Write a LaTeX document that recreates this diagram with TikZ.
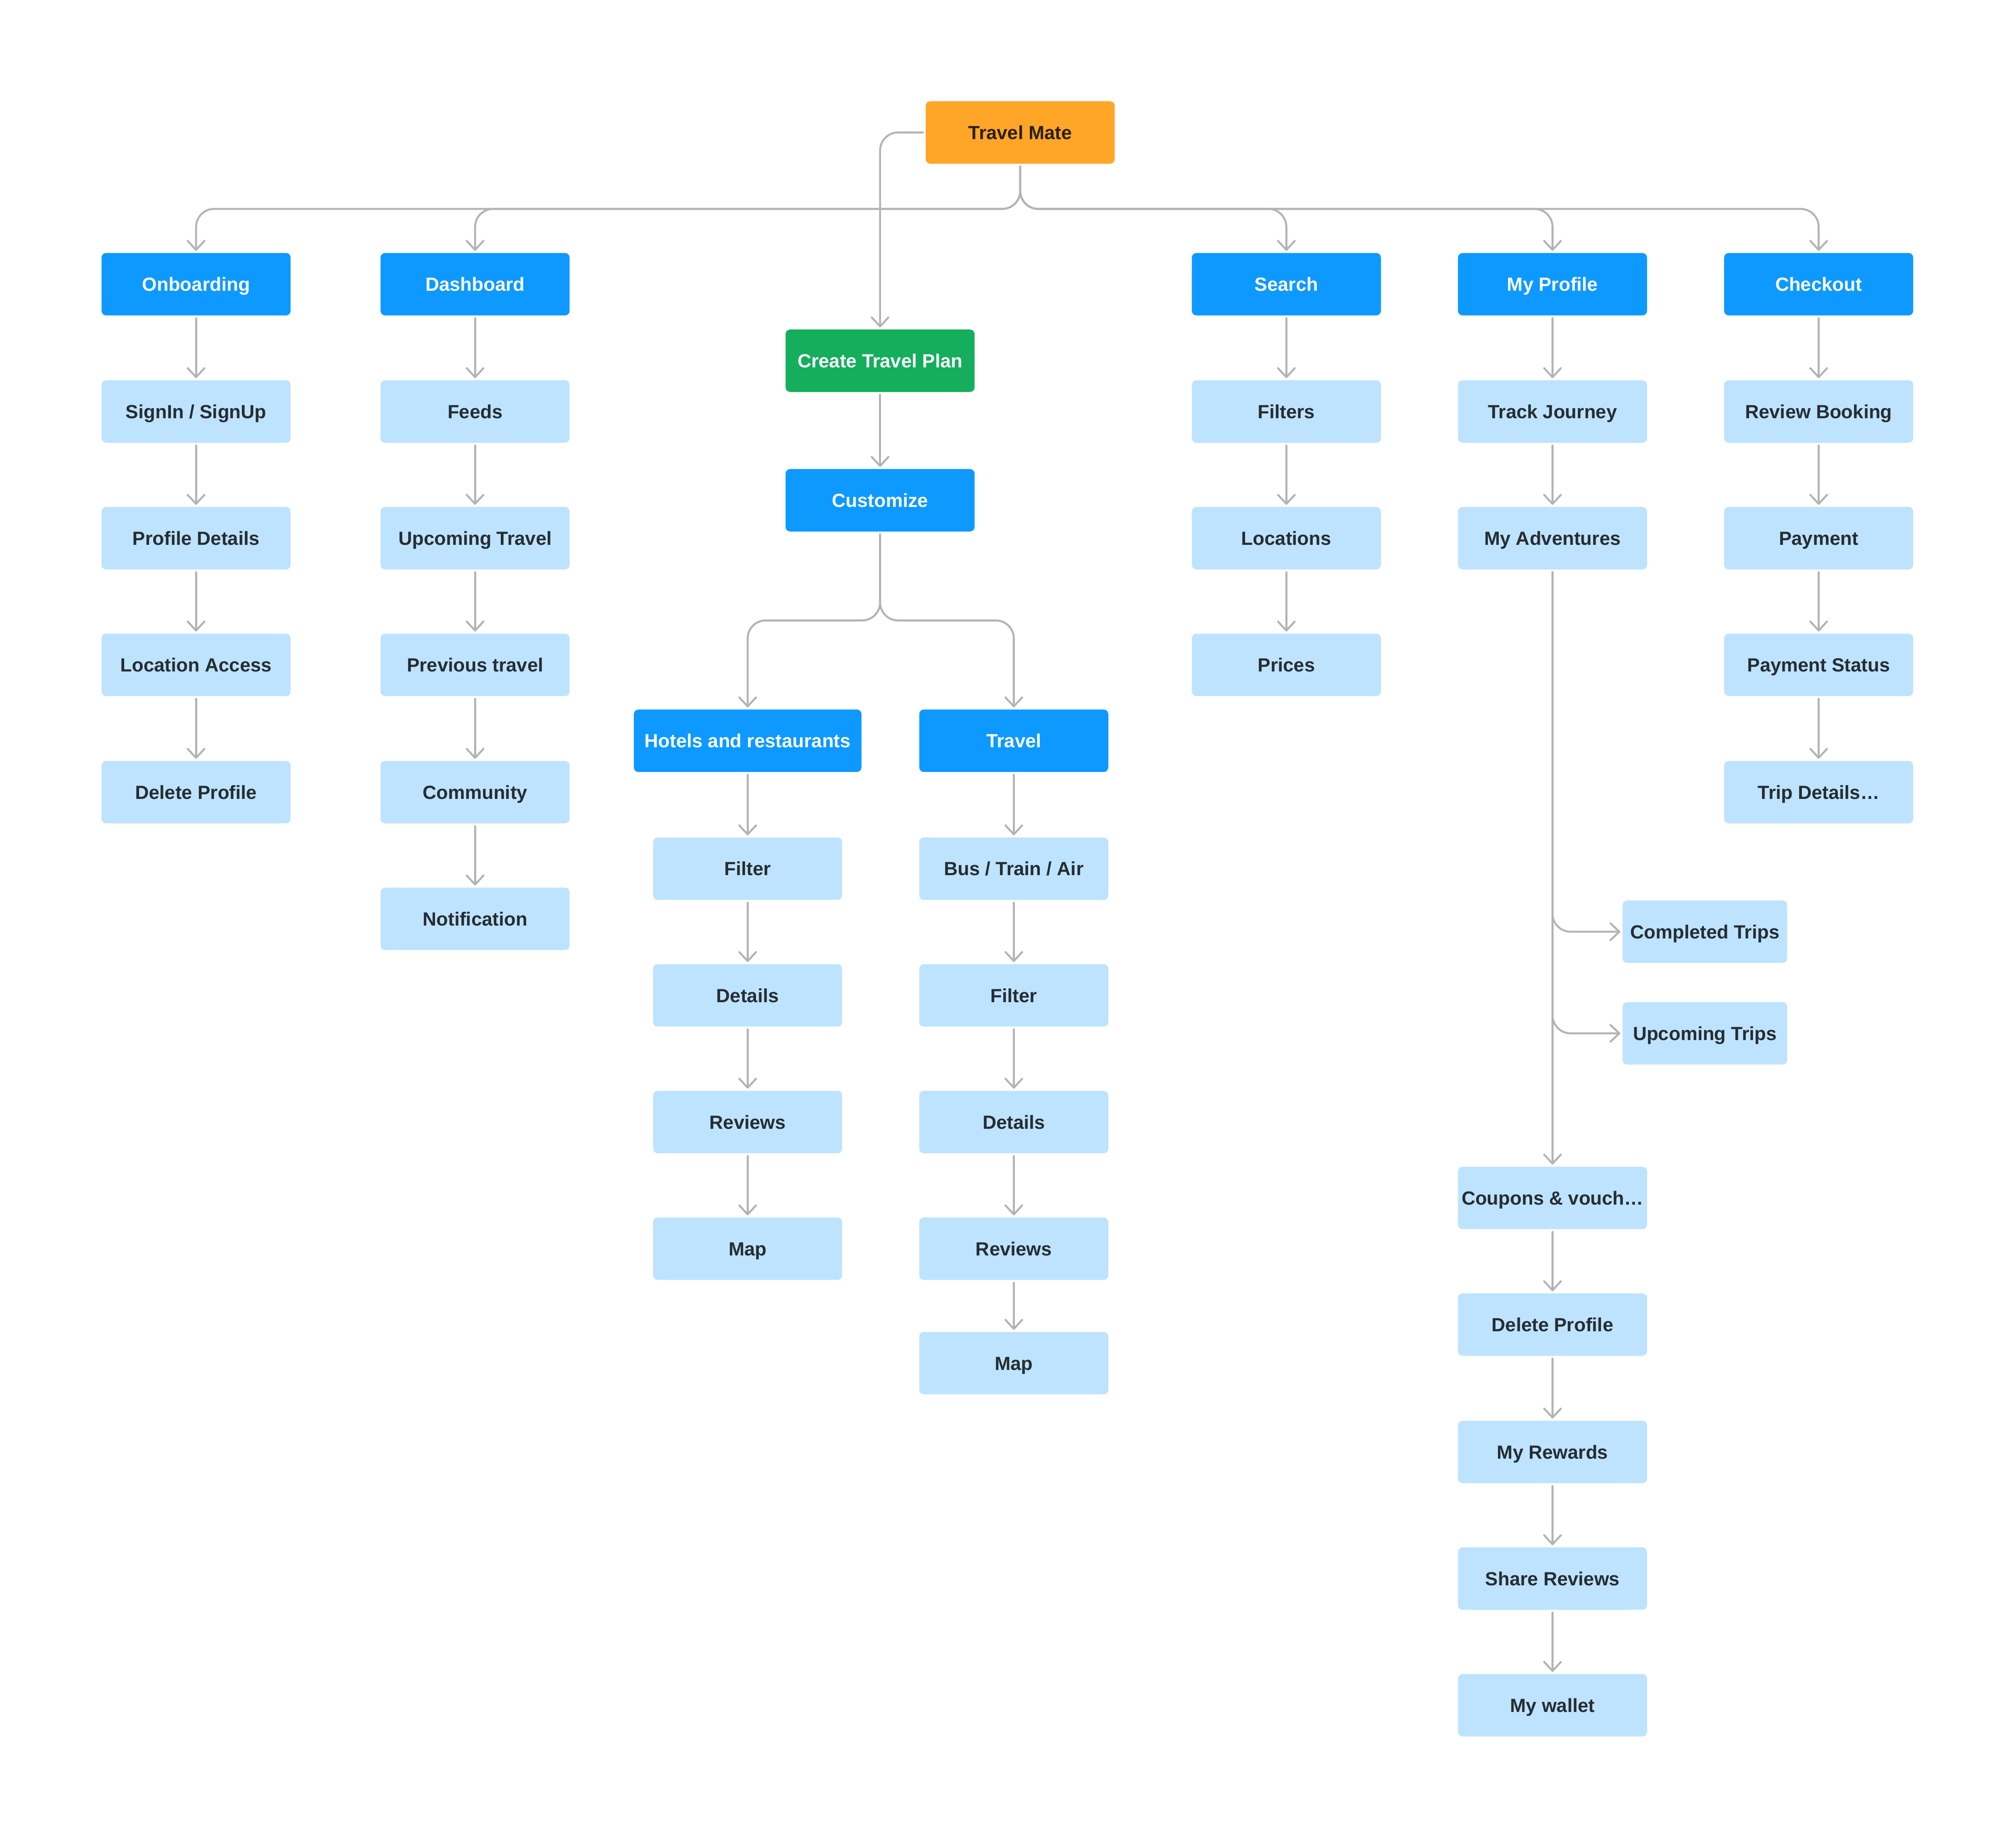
\documentclass[tikz,border=0pt]{standalone}
\usepackage{fontspec}
\setmainfont{Liberation Sans}
\usetikzlibrary{arrows.meta}
\definecolor{tmorange}{HTML}{FFA629}
\definecolor{tmblue}{HTML}{0D99FF}
\definecolor{tmlight}{HTML}{BDE3FF}
\definecolor{tmgreen}{HTML}{14AE5C}
\definecolor{tmgray}{HTML}{B3B3B3}
\definecolor{tmdark}{HTML}{262D33}
\definecolor{tmbrown}{HTML}{2E1F08}
\begin{document}
\begin{tikzpicture}[x=1pt, y=-1pt,
		box/.style={rectangle, rounded corners=3.5pt, minimum width=147pt, minimum height=48.5pt, inner sep=0pt, font=\fontsize{14.8}{16}\selectfont\bfseries, text height=10.6pt, text depth=0pt},
		mainbox/.style={box, fill=tmblue, text=white},
		subbox/.style={box, fill=tmlight, text=tmdark},
		conn/.style={draw=tmgray, line width=1.5pt, line cap=round, rounded corners=14pt, shorten <=2pt, shorten >=1.5pt, -{Straight Barb[length=7pt,width=13pt,round]}}]
		\useasboundingbox (0,0) rectangle (1568,1430);
		% root
		\node[box, fill=tmorange, text=tmbrown] (root) at (793.5,103) {Travel Mate};
		% first level
		\node[mainbox] (onb) at (152.5,221) {Onboarding};
		\node[mainbox] (dash) at (369.5,221) {Dashboard};
		\node[mainbox] (srch) at (1000.5,221) {Search};
		\node[mainbox] (prof) at (1207.5,221) {My Profile};
		\node[mainbox] (chk) at (1414.5,221) {Checkout};
		\node[box, fill=tmgreen, text=white] (plan) at (684.5,280.5) {Create Travel Plan};
		\node[mainbox] (cust) at (684.5,389) {Customize};
		\node[mainbox, minimum width=177pt] (hotel) at (581.5,576) {Hotels and restaurants};
		\node[mainbox] (trav) at (788.5,576) {Travel};
		% onboarding
		\node[subbox] (sign) at (152.5,320) {SignIn / SignUp};
		\node[subbox] (pdet) at (152.5,418.5) {Profile Details};
		\node[subbox] (loca) at (152.5,517) {Location Access};
		\node[subbox] (odel) at (152.5,616) {Delete Profile};
		% dashboard
		\node[subbox] (feed) at (369.5,320) {Feeds};
		\node[subbox] (upct) at (369.5,418.5) {Upcoming Travel};
		\node[subbox] (prev) at (369.5,517) {Previous travel};
		\node[subbox] (comm) at (369.5,616) {Community};
		\node[subbox] (noti) at (369.5,714.5) {Notification};
		% hotels
		\node[subbox] (hfil) at (581.5,675.5) {Filter};
		\node[subbox] (hdet) at (581.5,774) {Details};
		\node[subbox] (hrev) at (581.5,872.5) {Reviews};
		\node[subbox] (hmap) at (581.5,971) {Map};
		% travel
		\node[subbox] (tbus) at (788.5,675.5) {Bus / Train / Air};
		\node[subbox] (tfil) at (788.5,774) {Filter};
		\node[subbox] (tdet) at (788.5,872.5) {Details};
		\node[subbox] (trev) at (788.5,971) {Reviews};
		\node[subbox] (tmap) at (788.5,1060) {Map};
		% search
		\node[subbox] (sfil) at (1000.5,320) {Filters};
		\node[subbox] (sloc) at (1000.5,418.5) {Locations};
		\node[subbox] (spri) at (1000.5,517) {Prices};
		% my profile
		\node[subbox] (trak) at (1207.5,320) {Track Journey};
		\node[subbox] (advn) at (1207.5,418.5) {My Adventures};
		\node[subbox, minimum width=128pt] (done) at (1326,724.5) {Completed Trips};
		\node[subbox, minimum width=128pt] (next) at (1326,803.5) {Upcoming Trips};
		\node[subbox] (coup) at (1207.5,931.5) {Coupons \& vouch…};
		\node[subbox] (pdel) at (1207.5,1030) {Delete Profile};
		\node[subbox] (rewd) at (1207.5,1129) {My Rewards};
		\node[subbox] (shar) at (1207.5,1227.5) {Share Reviews};
		\node[subbox] (wall) at (1207.5,1326) {My wallet};
		% checkout
		\node[subbox] (rbok) at (1414.5,320) {Review Booking};
		\node[subbox] (paym) at (1414.5,418.5) {Payment};
		\node[subbox] (psta) at (1414.5,517) {Payment Status};
		\node[subbox] (trip) at (1414.5,616) {Trip Details…};
		% branches from the root
		\draw[conn] (root.south) -- ++(0,35) -| (onb.north);
		\draw[conn] (root.south) -- ++(0,35) -| (dash.north);
		\draw[conn] (root.south) -- ++(0,35) -| (srch.north);
		\draw[conn] (root.south) -- ++(0,35) -| (prof.north);
		\draw[conn] (root.south) -- ++(0,35) -| (chk.north);
		\draw[conn] (root.west) -| (plan.north);
		\draw[conn] (plan) -- (cust);
		\draw[conn] (cust.south) -- ++(0,69) -| (hotel.north);
		\draw[conn] (cust.south) -- ++(0,69) -| (trav.north);
		% columns
		\draw[conn] (onb) -- (sign);
		\draw[conn] (sign) -- (pdet);
		\draw[conn] (pdet) -- (loca);
		\draw[conn] (loca) -- (odel);
		\draw[conn] (dash) -- (feed);
		\draw[conn] (feed) -- (upct);
		\draw[conn] (upct) -- (prev);
		\draw[conn] (prev) -- (comm);
		\draw[conn] (comm) -- (noti);
		\draw[conn] (hotel) -- (hfil);
		\draw[conn] (hfil) -- (hdet);
		\draw[conn] (hdet) -- (hrev);
		\draw[conn] (hrev) -- (hmap);
		\draw[conn] (trav) -- (tbus);
		\draw[conn] (tbus) -- (tfil);
		\draw[conn] (tfil) -- (tdet);
		\draw[conn] (tdet) -- (trev);
		\draw[conn] (trev) -- (tmap);
		\draw[conn] (srch) -- (sfil);
		\draw[conn] (sfil) -- (sloc);
		\draw[conn] (sloc) -- (spri);
		\draw[conn] (prof) -- (trak);
		\draw[conn] (trak) -- (advn);
		\draw[conn] (advn.south) |- (done.west);
		\draw[conn] (advn.south) |- (next.west);
		\draw[conn] (advn) -- (coup);
		\draw[conn] (coup) -- (pdel);
		\draw[conn] (pdel) -- (rewd);
		\draw[conn] (rewd) -- (shar);
		\draw[conn] (shar) -- (wall);
		\draw[conn] (chk) -- (rbok);
		\draw[conn] (rbok) -- (paym);
		\draw[conn] (paym) -- (psta);
		\draw[conn] (psta) -- (trip);
	\end{tikzpicture}
\end{document}
